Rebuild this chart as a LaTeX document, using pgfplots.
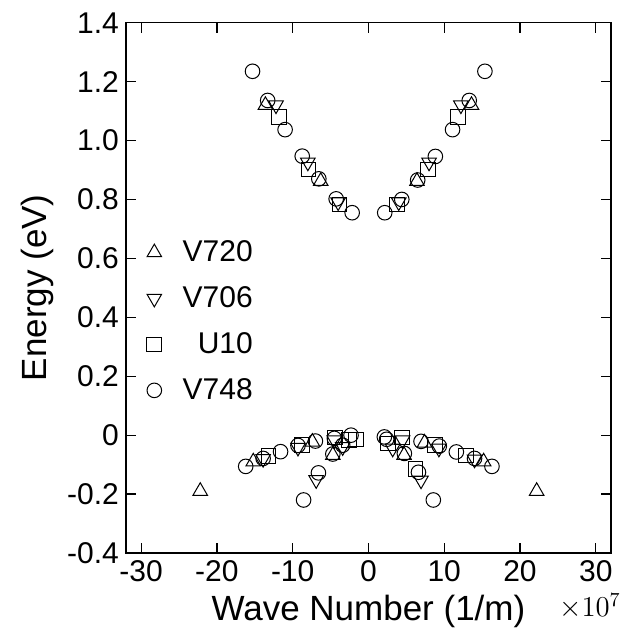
\documentclass[border=0pt]{standalone}
\usepackage[no-math]{fontspec}
\setmainfont{Liberation Sans}
\usepackage{pgfplots}
\pgfplotsset{compat=1.18}

\begin{document}
\begin{tikzpicture}
\begin{axis}[
  scale only axis,
  width=242.5pt, height=265.2pt,
  xmin=-32, xmax=32, ymin=-0.4, ymax=1.4,
  xtick={-30,-20,-10,0,10,20,30},
  xticklabels={-30,-20,-10,0,10,20,30},
  ytick={-0.4,-0.2,0,0.2,0.4,0.6,0.8,1.0,1.2,1.4},
  yticklabels={-0.4,-0.2,0,0.2,0.4,0.6,0.8,1.0,1.2,1.4},
  tick align=inside,
  major tick length=5pt,
  tick style={line width=0.6pt, black},
  axis line style={line width=0.65pt},
  ticklabel style={font=\fontsize{15}{18}\selectfont},
  label style={font=\fontsize{17.5}{21}\selectfont},
  xlabel={Wave Number (1/m)},
  ylabel={Energy (eV)},
  legend style={
    at={(0.03,0.605)}, anchor=north west,
    draw=none, fill=none,
    font=\fontsize{15}{18}\selectfont,
    row sep=7pt,
    /tikz/every odd column/.append style={column sep=8.5pt},
  },
  legend cell align=right,
  every axis plot/.append style={only marks, black, line width=0.5pt},
]
% V720
\addplot[mark=triangle, mark size=4.2pt] coordinates {
  (-22.2,-0.19) (-15.2,-0.090) (-13.6,1.12) (-7.4,-0.023) (-6.3,0.862)
  (-4.7,-0.068) (4.7,-0.068) (6.4,0.862) (7.4,-0.026) (13.6,1.12)
  (15.2,-0.090) (22.2,-0.19)
};
% V706
\addplot[mark=triangle, mark size=4.2pt, mark options={rotate=180}] coordinates {
  (-12.2,1.12) (-8.0,0.926) (-4.0,0.791) (4.0,0.791) (8.0,0.926) (12.2,1.12)
  (-13.9,-0.080) (-9.3,-0.042) (-6.9,-0.152) (-4.5,-0.017) (-3.4,-0.040)
  (3.2,-0.045) (4.5,-0.017) (6.94,-0.153) (9.3,-0.045) (14.0,-0.082)
};
% U10
\addplot[mark=square, mark size=3.7pt] coordinates {
  (-11.85,1.079) (-7.9,0.902) (-3.82,0.783) (3.82,0.783) (7.9,0.902) (11.85,1.079)
  (-13.2,-0.071) (-8.8,-0.034) (-4.45,-0.008) (-2.6,-0.017) (-1.6,-0.015)
  (2.55,-0.028) (4.45,-0.008) (6.2,-0.116) (8.8,-0.034) (12.9,-0.069)
};
% V748
\addplot[mark=o, mark size=3.65pt] coordinates {
  (-15.3,1.235) (-13.3,1.136) (-11.0,1.037) (-8.74,0.947) (-6.55,0.870)
  (-4.26,0.802) (-2.15,0.755) (2.15,0.755) (4.4,0.80) (6.5,0.866)
  (8.83,0.946) (11.1,1.037) (13.3,1.136) (15.37,1.235)
  (-16.2,-0.106) (-13.9,-0.079) (-11.6,-0.056) (-9.3,-0.035) (-8.56,-0.22)
  (-7.0,-0.020) (-6.6,-0.128) (-4.7,-0.064) (-4.5,-0.011) (-3.4,-0.034)
  (-2.3,0.0) (2.1,-0.006) (2.4,-0.014) (4.74,-0.062) (6.94,-0.021)
  (6.6,-0.126) (8.56,-0.22) (9.35,-0.037) (11.6,-0.057) (14.0,-0.079)
  (16.3,-0.106)
};
\legend{V720,V706,U10,V748}
\coordinate (bl) at (rel axis cs:0,0);
\coordinate (tr) at (rel axis cs:1,1);
\coordinate (br) at (rel axis cs:1,0);
\end{axis}
\node[font=\fontsize{14}{16}\selectfont] at ([shift={(-10.5pt,-26.5pt)}]br) {$\times10^{7}$};
\pgfresetboundingbox
\path ([shift={(-63pt,-43.5pt)}]bl) rectangle ([shift={(6.5pt,11.35pt)}]tr);
\end{tikzpicture}
\end{document}
